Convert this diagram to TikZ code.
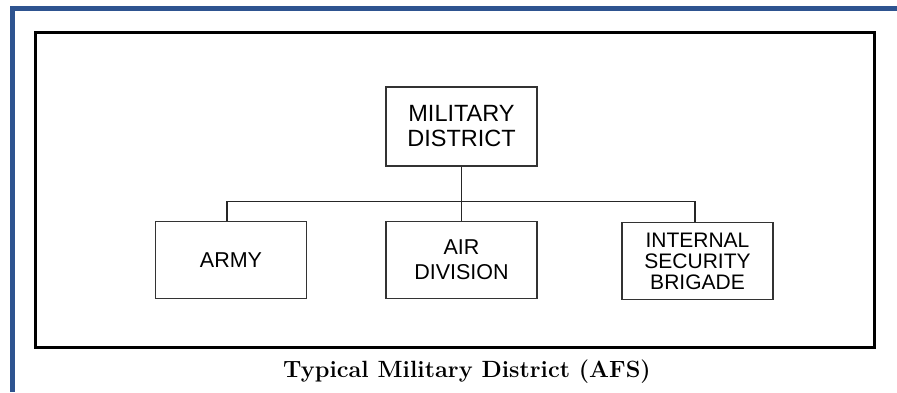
\documentclass[tikz,border=0pt]{standalone}
\usepackage{fontspec}
\newfontfamily\boxfont{Liberation Sans}
\usetikzlibrary{positioning}
\definecolor{frameblue}{RGB}{46,84,144}

\begin{document}
\begin{tikzpicture}[x=1pt,y=-1pt,
  unit/.style={draw=black!80,line width=1.1pt,align=center,inner sep=0pt,
    minimum width=151pt,minimum height=77pt,font=\boxfont\fontsize{21.5}{25}\selectfont},
  link/.style={line width=1.2pt,black!85}]
  \useasboundingbox (0,0) rectangle (897,392);
  \fill[frameblue] (10,6) rectangle (897,11);
  \fill[frameblue] (10,6) rectangle (15,392);
  \draw[line width=3pt] (35.5,32.5) rectangle (874.5,347.5);
  \node[unit,minimum height=79pt,font=\boxfont\fontsize{23.5}{25}\selectfont] (md) at (461.5,126.5) {MILITARY\\DISTRICT};
  \node[unit] (army) at (231,260) {ARMY};
  \node[unit] (air) at (461.5,260) {AIR\\DIVISION};
  \node[unit,font=\boxfont\fontsize{21}{21}\selectfont] (isb) at (697.5,261) {INTERNAL\\SECURITY\\BRIGADE};
  \coordinate (bus) at (461.5,201.5);
  \draw[link] (md) -- (air);
  \draw[link] ([xshift=-4pt]army.north) |- (bus) -| ([xshift=-2.5pt]isb.north);
  \node[anchor=base,font=\fontsize{23.5}{28}\selectfont\bfseries] (caption) at (467,377) {Typical Military District (AFS)};
\end{tikzpicture}
\end{document}
